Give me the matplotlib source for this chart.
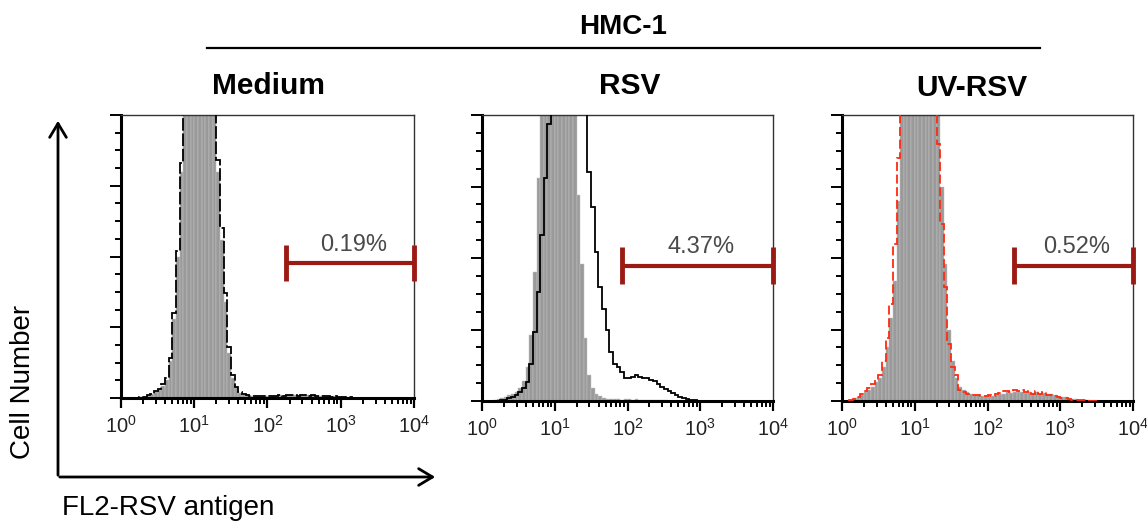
import numpy as np
import matplotlib
matplotlib.use("Agg")
import matplotlib.pyplot as plt
from matplotlib.patches import FancyArrowPatch
from matplotlib.lines import Line2D
from matplotlib.ticker import LogLocator, FixedLocator, NullFormatter

plt.rcParams['font.family'] = ['Liberation Sans', 'DejaVu Sans']

###################################################
# Data
###################################################
# histogram bins, log10 of FL2 intensity
bin_edges_log = np.arange(0.1, 3.5001, 0.05)

panel_titles = ['Medium', 'RSV', 'UV-RSV']
gate_labels = ['0.19%', '4.37%', '0.52%']
gate_lo = [178, 85, 230]
gate_hi = [1e4, 1e4, 1e4]
gate_y = [47.7, 47.3, 47.3]

# gray filled histograms (control)
medium_gray = [0, 0, 0, 0.2, 0.4, 0.8, 1.4, 2.1, 3.0, 4.4, 6.5, 13, 28, 50, 80, 112,
               135, 150, 155, 150, 145, 135, 125, 108, 80, 56, 34, 16, 7, 3.5, 1.8, 1.2,
               0.9, 0.8, 0.7, 0.8, 0.6, 0.7, 0.8, 0.6, 0.7, 0.9, 0.8, 1.0, 0.9, 1.1, 0.8, 0.9,
               1.0, 0.8, 0.9, 0.7, 0.8, 0.6, 0.7, 0.5, 0.6, 0.4, 0.5, 0.3, 0.2, 0, 0, 0,
               0, 0, 0, 0]
rsv_gray = [0, 0.3, 0.6, 1.0, 1.4, 2.0, 2.6, 3.2, 4.5, 7, 12, 23, 45, 78, 108, 135,
            150, 155, 152, 148, 140, 132, 120, 110, 72, 48, 22, 9, 4.5, 2.5, 1.6, 1.0,
            0.8, 0.7, 0.6, 0.7, 0.5, 0.6, 0.7, 0.5, 0.6, 0.5, 0.4, 0.5, 0.4, 0.3, 0.3, 0.2,
            0.2, 0.1, 0, 0, 0, 0, 0, 0, 0, 0, 0, 0, 0, 0, 0, 0,
            0, 0, 0, 0]
uvrsv_gray = [0.5, 1.0, 1.5, 2.2, 3.0, 4, 5, 6.5, 8, 12, 19, 29, 42, 70, 100, 125,
              140, 150, 155, 152, 148, 140, 135, 128, 105, 75, 48, 25, 14, 8, 5, 3.8,
              3, 2.5, 2.2, 2, 1.8, 1.7, 1.8, 1.7, 2.0, 2.3, 2.6, 3.0, 2.8, 3.2, 3.0, 3.3,
              2.9, 3.1, 2.8, 3.0, 2.6, 2.7, 2.3, 2.4, 2.0, 1.8, 1.5, 1.3, 1.0, 0.8, 0.6, 0.4,
              0.3, 0.2, 0.1, 0]

# overlaid sample histograms (outline)
medium_line = [0, 0, 0, 0.2, 0.5, 0.9, 1.5, 2.3, 3.2, 4.8, 7.0, 14, 30, 52, 83, 115,
               138, 150, 155, 150, 146, 137, 127, 112, 84, 60, 37, 18, 8, 4.0, 2.0, 1.3,
               0.9, 0.8, 0.7, 0.8, 0.6, 0.7, 0.8, 0.6, 0.7, 0.9, 0.8, 1.0, 0.9, 1.1, 0.8, 0.9,
               1.0, 0.8, 0.9, 0.7, 0.8, 0.6, 0.7, 0.5, 0.6, 0.4, 0.5, 0.3, 0.2, 0, 0, 0,
               0, 0, 0, 0]
rsv_line = [0, 0, 0, 0.2, 0.5, 0.9, 1.4, 2.0, 3.0, 4.5, 6.5, 13, 24, 38, 58, 78,
            97, 115, 130, 140, 145, 150, 148, 145, 140, 130, 105, 80, 68, 52, 40, 32,
            25, 17, 13, 12, 10, 8, 8, 8.5, 9, 8.5, 8, 8.2, 7.5, 7, 6, 5,
            4.2, 3.4, 2.7, 2.0, 1.5, 1.1, 0.8, 0.4, 0.2, 0, 0, 0, 0, 0, 0, 0,
            0, 0, 0, 0]
uvrsv_line = [0.3, 0.8, 1.4, 2.5, 3.5, 4.5, 6, 7.5, 9, 14, 22, 34, 55, 85, 110, 130,
              145, 152, 155, 150, 145, 138, 130, 118, 90, 62, 40, 20, 12, 9, 4, 3,
              2.5, 2.2, 2.0, 2.2, 1.6, 1.9, 2.0, 1.6, 2.4, 2.8, 3.4, 3.6, 3.0, 4.0, 3.4, 3.8,
              3.2, 3.6, 2.6, 3.4, 2.4, 3.0, 2.0, 2.2, 1.6, 1.4, 1.2, 1.0, 0.8, 0.5, 0.4, 0.3,
              0.2, 0.1, 0, 0]

gray_sets = [medium_gray, rsv_gray, uvrsv_gray]
line_sets = [medium_line, rsv_line, uvrsv_line]
line_colors = ['black', 'black', '#ff2a10']
line_styles = [(0, (7, 1.5)), '-', (0, (5, 2))]

###################################################
# Figure
###################################################
W, H = 1147, 531
fig = plt.figure(figsize=(W / 100, H / 100), dpi=100)

def fx(px):
    return px / W

def fy(py):
    return 1 - py / H

axes_px = [(121, 115, 414, 398), (482, 115, 773, 401), (842, 115, 1133, 401)]
title_px = [(269, 86), (630, 86), (972, 88)]
edges = 10 ** bin_edges_log
gate_red = '#9b1b14'

for k, (x0, y0, x1, y1) in enumerate(axes_px):
    ax = fig.add_axes([fx(x0), fy(y1), fx(x1 - x0), (y1 - y0) / H])
    ax.set_xscale('log')
    ax.set_xlim(1, 1e4)
    ax.set_ylim(0, 100)

    ax.bar(edges[:-1], gray_sets[k], width=np.diff(edges), align='edge',
           color='#9a9a9a', edgecolor='#c4c4c4', linewidth=0.35, zorder=2)
    ax.stairs(line_sets[k], edges, color=line_colors[k], linestyle=line_styles[k],
              linewidth=1.3, zorder=3)

    # gate marker
    ax.plot([gate_lo[k], gate_hi[k]], [gate_y[k], gate_y[k]], color=gate_red, lw=3,
            solid_capstyle='butt', zorder=4, clip_on=False)
    ax.vlines([gate_lo[k], gate_hi[k]], gate_y[k] - 6.5, gate_y[k] + 6.5, color=gate_red,
              lw=3.5, zorder=4, clip_on=False)
    xm = 10 ** ((np.log10(gate_lo[k]) + np.log10(gate_hi[k])) / 2 + 0.05)
    ax.text(xm, gate_y[k] + 2.6, gate_labels[k], ha='center', va='bottom',
            fontsize=17, color='#4a4a4a')

    fig.text(fx(title_px[k][0]), fy(title_px[k][1]), panel_titles[k], ha='center',
             va='center', fontsize=21.5, fontweight='bold')

    # axes look
    for s in ['left', 'bottom']:
        ax.spines[s].set_linewidth(2.2)
    for s in ['top', 'right']:
        ax.spines[s].set_linewidth(1.0)
        ax.spines[s].set_color('#333333')

    ax.xaxis.set_major_locator(LogLocator(base=10, numticks=10))
    ax.xaxis.set_minor_locator(LogLocator(base=10, subs=np.arange(2, 10), numticks=10))
    ax.xaxis.set_minor_formatter(NullFormatter())
    ax.yaxis.set_major_locator(FixedLocator([0, 25, 50, 75, 100]))
    ax.yaxis.set_minor_locator(FixedLocator(np.arange(0, 100.1, 6.25)))
    ax.set_yticklabels([])
    ax.tick_params(axis='x', which='major', length=7, width=1.6, direction='out',
                   labelsize=14.5, pad=5, labelcolor='#222222')
    ax.tick_params(axis='x', which='minor', length=4, width=1.4, direction='out')
    ax.tick_params(axis='y', which='major', length=8, width=1.4, direction='out')
    ax.tick_params(axis='y', which='minor', length=4, width=1.4, direction='out')

# group header
fig.text(fx(623), fy(27), 'HMC-1', ha='center', va='center', fontsize=20,
         fontweight='bold')
fig.add_artist(Line2D([fx(207), fx(1040)], [fy(48), fy(48)], color='black', lw=1.6))

# axis arrows
fig.add_artist(FancyArrowPatch((fx(58), fy(478)), (fx(58), fy(118)),
                               transform=fig.transFigure, arrowstyle='->,head_length=10,head_width=6',
                               lw=2, color='black', mutation_scale=1))
fig.add_artist(FancyArrowPatch((fx(57), fy(477)), (fx(438), fy(477)),
                               transform=fig.transFigure, arrowstyle='->,head_length=10,head_width=6',
                               lw=2, color='black', mutation_scale=1))
fig.text(fx(23), fy(382), 'Cell Number', rotation=90, ha='center', va='center', fontsize=20)
fig.text(fx(62), fy(508), 'FL2-RSV antigen', ha='left', va='center', fontsize=20)

fig.savefig('out.png', dpi=100)
